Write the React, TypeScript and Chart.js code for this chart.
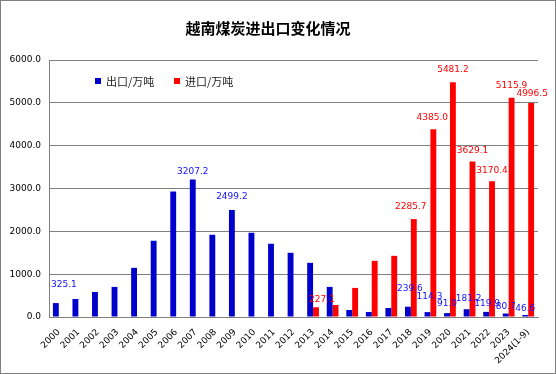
import React, { useEffect, useRef } from "react";
import { Chart, registerables } from "chart.js";

Chart.register(...registerables);

const TITLE = "越南煤炭进出口变化情况";
const years = [
  "2000", "2001", "2002", "2003", "2004", "2005", "2006", "2007", "2008", "2009",
  "2010", "2011", "2012", "2013", "2014", "2015", "2016", "2017", "2018", "2019",
  "2020", "2021", "2022", "2023", "2024(1-9)",
];
const exportName = "出口/万吨";
const importName = "进口/万吨";
const exportValues = [
  325.1, 421, 585, 703, 1148, 1780, 2930, 3207.2, 1920, 2499.2,
  1967, 1710, 1499, 1265, 703, 164, 117, 211, 239.6, 114.3,
  91.0, 181.2, 119.9, 80.7, 46.6,
];
const importValues: (number | null)[] = [
  null, null, null, null, null, null, null, null, null, null,
  null, null, null, 227.1, 281, 679, 1311, 1428, 2285.7, 4385.0,
  5481.2, 3629.1, 3170.4, 5115.9, 4996.5,
];
// which points carry a value label
const exportLabeled = ["2000", "2007", "2009", "2018", "2019", "2020", "2021", "2022", "2023", "2024(1-9)"];
const importLabeled = ["2013", "2018", "2019", "2020", "2021", "2022", "2023", "2024(1-9)"];
const yTicks = [0, 1000, 2000, 3000, 4000, 5000, 6000];

// label nudges (style only): [dx, distance above bar top]
const exportNudge: Record<string, [number, number]> = {
  "2000": [8, 18], "2007": [0, 8], "2009": [0, 13], "2018": [2, 18], "2019": [2, 15],
  "2020": [0, 9], "2021": [2, 11], "2022": [1, 8], "2023": [0, 7], "2024(1-9)": [0, 6],
};
const importNudge: Record<string, [number, number]> = {
  "2013": [6, 8], "2018": [-3, 12], "2019": [-1, 12], "2020": [0, 13], "2021": [0, 11],
  "2022": [0, 11], "2023": [0, 12], "2024(1-9)": [1, 9],
};

const BLUE = "#0000CC";
const RED = "#FF0000";
const GRID = "#808080";

export default function App() {
  const ref = useRef<HTMLCanvasElement | null>(null);
  useEffect(() => {
    if (!ref.current) return;
    const decor = {
      id: "decor",
      beforeDraw(chart: any) {
        const ctx = chart.ctx;
        ctx.save();
        ctx.fillStyle = "#fff";
        ctx.fillRect(0, 0, chart.width, chart.height);
        ctx.restore();
      },
      afterDraw(chart: any) {
        const ctx = chart.ctx;
        const area = chart.chartArea;
        ctx.save();
        // border
        ctx.strokeStyle = GRID;
        ctx.lineWidth = 1;
        ctx.strokeRect(0.5, 0.5, chart.width - 1, chart.height - 1);
        // title
        ctx.fillStyle = "#000";
        ctx.font = "bold 15px 'Noto Sans CJK SC'";
        ctx.textAlign = "center";
        ctx.textBaseline = "middle";
        ctx.fillText(TITLE, 268, 28);
        // legend
        const ly = area.top + 21;
        ctx.font = "11px 'Noto Sans CJK SC'";
        ctx.textAlign = "left";
        const items = [
          { name: exportName, color: BLUE, x: area.left + 46 },
          { name: importName, color: RED, x: area.left + 125 },
        ];
        for (const it of items) {
          ctx.fillStyle = it.color;
          ctx.fillRect(it.x, ly - 3, 6, 6);
          ctx.fillStyle = "#222";
          ctx.fillText(it.name, it.x + 11, ly + 1);
        }
        // value labels
        ctx.font = "9px 'DejaVu Sans'";
        ctx.textAlign = "center";
        ctx.textBaseline = "middle";
        const sets = [
          { di: 0, list: exportLabeled, nudge: exportNudge, color: "#1010FF" },
          { di: 1, list: importLabeled, nudge: importNudge, color: "#FF0000" },
        ];
        for (const s of sets) {
          const meta = chart.getDatasetMeta(s.di);
          const data = chart.data.datasets[s.di].data;
          for (const cat of s.list) {
            const i = years.indexOf(cat);
            const el = meta.data[i];
            const v = data[i];
            if (!el || v == null) continue;
            const [dx, dy] = s.nudge[cat] || [0, 11];
            ctx.fillStyle = s.color;
            ctx.fillText(Number(v).toFixed(1), el.x + dx, el.y - dy);
          }
        }
        ctx.restore();
      },
    };
    const chart = new Chart(ref.current, {
      type: "bar",
      data: {
        labels: years,
        datasets: [
          { label: exportName, data: exportValues, backgroundColor: BLUE, categoryPercentage: 0.6, barPercentage: 1 },
          { label: importName, data: importValues, backgroundColor: RED, categoryPercentage: 0.6, barPercentage: 1 },
        ],
      },
      options: {
        responsive: false,
        animation: false,
        layout: { padding: { top: 60, right: 18, left: 0, bottom: 0 } },
        plugins: {
          legend: { display: false },
          title: { display: false },
          tooltip: { enabled: false },
        },
        scales: {
          x: {
            grid: { display: false, drawTicks: false },
            border: { color: GRID, width: 1 },
            ticks: {
              autoSkip: false,
              minRotation: 45,
              maxRotation: 45,
              color: "#000",
              padding: 10,
              font: { family: "'DejaVu Sans'", size: 9 },
            },
            afterFit(scale: any) {
              scale.height = 57;
            },
          },
          y: {
            min: 0,
            max: 6000,
            afterBuildTicks(scale: any) {
              scale.ticks = yTicks.map((v) => ({ value: v }));
            },
            grid: { color: GRID, lineWidth: 1, drawTicks: false },
            border: { color: GRID, width: 1 },
            ticks: {
              color: "#000",
              padding: 8,
              font: { family: "'DejaVu Sans'", size: 9 },
              callback: (v: any) => Number(v).toFixed(1),
            },
            afterFit(scale: any) {
              scale.width = 49;
            },
          },
        },
      },
      plugins: [decor],
    });
    return () => chart.destroy();
  }, []);
  return (
    <div style={{ position: "absolute", left: 0, top: 0, width: 556, height: 374 }}>
      <canvas ref={ref} width={556} height={374} style={{ display: "block" }} />
    </div>
  );
}
